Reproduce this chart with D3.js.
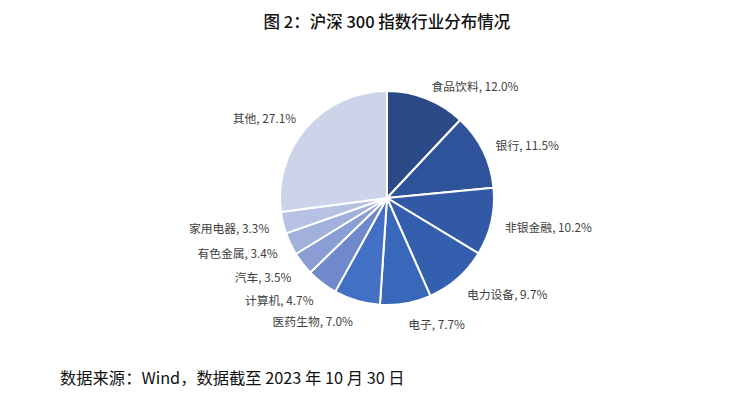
<!DOCTYPE html>
<html><head><meta charset="utf-8">
<script src="https://cdn.jsdelivr.net/npm/d3@7"></script>
<style>
body{margin:0;background:#fff;}
svg{display:block;font-family:"Noto Sans CJK SC","Noto Sans",sans-serif;}
</style></head>
<body>
<svg id="c" width="756" height="397"></svg>
<script>
const categories = ["食品饮料","银行","非银金融","电力设备","电子","医药生物","计算机","汽车","有色金属","家用电器","其他"];
const values = [12.0,11.5,10.2,9.7,7.7,7.0,4.7,3.5,3.4,3.3,27.1];
const colors = ["#2b4a87","#2f539b","#3159a6","#345fae","#3968ba","#4270c4","#7088cc","#8a9dd4","#a2b0dc","#b7c1e3","#cdd3e9"];
const title = "图 2：沪深 300 指数行业分布情况";
const source = "数据来源：Wind，数据截至 2023 年 10 月 30 日";

const svg = d3.select("#c");
const cx = 387, cy = 198, R = 107, LR = 121;

svg.append("text").attr("x",387).attr("y",28).attr("text-anchor","middle")
  .attr("font-size",16.5).attr("font-weight",500).attr("fill","#111").text(title);
svg.append("text").attr("x",60).attr("y",384)
  .attr("font-size",16.3).attr("fill","#111").text(source);

const data = categories.map((c,i)=>({name:c,value:values[i],color:colors[i]}));
const pie = d3.pie().value(d=>d.value).sort(null);
const arcs = pie(data);
const arc = d3.arc().innerRadius(0).outerRadius(R);
const g = svg.append("g").attr("transform",`translate(${cx},${cy})`);
g.selectAll("path").data(arcs).enter().append("path")
  .attr("d",arc).attr("fill",d=>d.data.color)
  .attr("stroke","#fff").attr("stroke-width",2).attr("stroke-linejoin","round");

g.selectAll("text.lbl").data(arcs).enter().append("text")
  .attr("class","lbl")
  .attr("transform",d=>{
    const a=(d.startAngle+d.endAngle)/2;
    const x=Math.sin(a)*LR, y=-Math.cos(a)*LR;
    const extra = Math.max(0,-Math.cos(a))*7 + 1;
    return `translate(${x},${y+extra})`;})
  .attr("dy","0.35em")
  .attr("text-anchor",d=>((d.startAngle+d.endAngle)/2<Math.PI)?"start":"end")
  .attr("font-size",11.8).attr("fill","#404040")
  .text(d=>`${d.data.name}, ${d.data.value.toFixed(1)}%`);
</script>
</body></html>
